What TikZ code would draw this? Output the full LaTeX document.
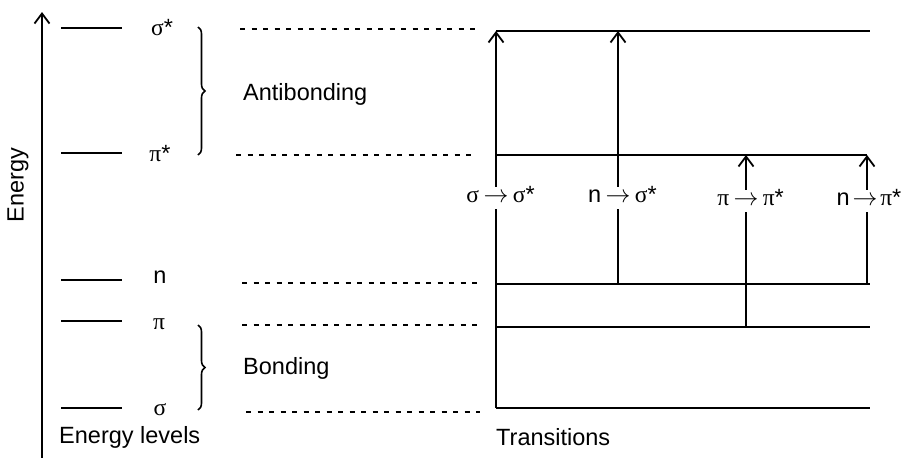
\documentclass[tikz,border=0pt]{standalone}
\usepackage{fontspec}
\setmainfont{Liberation Sans}
\newfontfamily\grk{Liberation Serif}
\usetikzlibrary{arrows.meta,decorations.pathreplacing}
\begin{document}
\begin{tikzpicture}[x=1pt,y=-1pt,
  lvl/.style={line width=1.8pt},
  dsh/.style={line width=1.4pt, dash pattern=on 5pt off 6.5pt},
  arr/.style={line width=1.8pt,-{Straight Barb[length=10pt,width=15pt,line width=1.8pt]}},
  txt/.style={font=\fontsize{23.5}{28}\selectfont, inner sep=0pt},
  tarr/.style={txt, fill=white, inner xsep=4pt, minimum height=22pt},
  brc/.style={line width=1.6pt, decorate, decoration={brace, amplitude=7pt}}]
\useasboundingbox (0,0) rectangle (903,458);
% energy axis
\coordinate (ebot) at (42,458);
\coordinate (etop) at (42,12);
\draw[arr] (ebot) -- (etop);
\node[txt, rotate=90] (energy) at (18,185) {Energy};
% left levels
\foreach \nm/\y in {ss/28, ps/153, nn/280, pp/321, sg/408}{
  \coordinate (L\nm a) at (61,\y);
  \coordinate (L\nm b) at (122,\y);
  \draw[lvl] (L\nm a) -- (L\nm b);
}
\node[txt] (lss) at (162,28) {{\grk σ}*};
\node[txt] (lps) at (160,154) {{\grk π}*};
\node[txt] (lnn) at (160,277) {n};
\node[txt] (lpp) at (159,324) {{\grk π}};
\node[txt] (lsg) at (160,410) {{\grk σ}};
% braces
\coordinate (b1t) at (198,27);
\coordinate (b1b) at (198,155);
\coordinate (b2t) at (198,325);
\coordinate (b2b) at (198,410);
\draw[brc] (b1t) -- (b1b);
\draw[brc] (b2t) -- (b2b);
\node[txt, anchor=west] (anti) at (243,94) {Antibonding};
\node[txt, anchor=west] (bond) at (243,368) {Bonding};
% dashed guide lines
\coordinate (d1a) at (240,29);  \coordinate (d1b) at (476,29);
\coordinate (d2a) at (236,155); \coordinate (d2b) at (472,155);
\coordinate (d3a) at (242,283); \coordinate (d3b) at (478,283);
\coordinate (d4a) at (242,325); \coordinate (d4b) at (478,325);
\coordinate (d5a) at (246,412); \coordinate (d5b) at (480,412);
\foreach \i in {1,...,5}{\draw[dsh] (d\i a) -- (d\i b);}
% right levels
\coordinate (Rssa) at (496,31);  \coordinate (Rssb) at (870,31);
\coordinate (Rpsa) at (496,155); \coordinate (Rpsb) at (867,155);
\coordinate (Rnna) at (496,284); \coordinate (Rnnb) at (870,284);
\coordinate (Rppa) at (496,327); \coordinate (Rppb) at (870,327);
\coordinate (Rsga) at (496,408); \coordinate (Rsgb) at (870,408);
\foreach \nm in {ss,ps,nn,pp,sg}{\draw[lvl] (R\nm a) -- (R\nm b);}
% transitions
\coordinate (t1a) at (496,408); \coordinate (t1b) at (496,31);
\coordinate (t2a) at (618,284); \coordinate (t2b) at (618,31);
\coordinate (t3a) at (746,327); \coordinate (t3b) at (746,155);
\coordinate (t4a) at (867,284); \coordinate (t4b) at (867,155);
\foreach \i in {1,...,4}{\draw[arr] (t\i a) -- (t\i b);}
% transition labels: arrow glyph centred on each transition line
\node[tarr] (l1) at (496,198) {$\rightarrow$};
\node[txt, anchor=base east] (l1a) at (l1.base west) {{\grk σ}};
\node[txt, anchor=base west] (l1b) at (l1.base east) {{\grk σ}*};
\node[tarr] (l2) at (618,198) {$\rightarrow$};
\node[txt, anchor=base east] (l2a) at (l2.base west) {n};
\node[txt, anchor=base west] (l2b) at (l2.base east) {{\grk σ}*};
\node[tarr] (l3) at (746,201) {$\rightarrow$};
\node[txt, anchor=base east] (l3a) at (l3.base west) {{\grk π}};
\node[txt, anchor=base west] (l3b) at (l3.base east) {{\grk π}*};
\node[tarr, inner xsep=2.5pt] (l4) at (865,201) {$\rightarrow$};
\node[txt, anchor=base east] (l4a) at (l4.base west) {n};
\node[txt, anchor=base west] (l4b) at (l4.base east) {{\grk π}*};
% captions
\node[txt, anchor=west] (elev) at (59,437) {Energy levels};
\node[txt, anchor=west] (trans) at (496,437) {Transitions};
\end{tikzpicture}
\end{document}
